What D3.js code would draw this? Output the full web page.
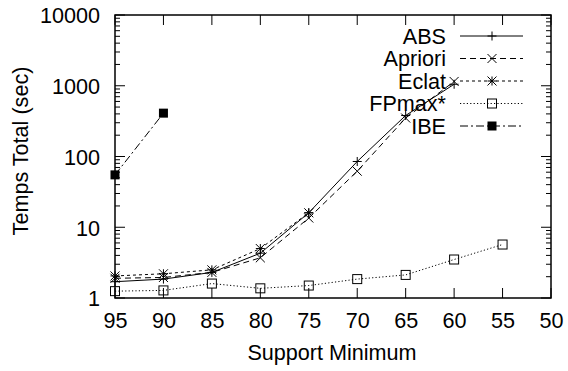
<!DOCTYPE html>
<html><head><meta charset="utf-8">
<script src="https://cdn.jsdelivr.net/npm/d3@7"></script>
<style>body{margin:0;background:#fff}svg{display:block}text{font-family:"Liberation Sans",Arial,sans-serif;fill:#000}</style>
</head><body>
<script>
const supports = [95, 90, 85, 80, 75, 70, 65, 60, 55];
const xTicks = [95, 90, 85, 80, 75, 70, 65, 60, 55, 50];
const yTicks = [1, 10, 100, 1000, 10000];
const absVals     = [1.7, 1.85, 2.3, 4.3, 16, 85, 380, 1050];
const aprioriVals = [1.9, 1.95, 2.3, 3.7, 13.5, 62, 350, 1150];
const eclatVals   = [2.05, 2.2, 2.5, 5.0, 16];
const fpmaxVals   = [1.25, 1.28, 1.6, 1.37, 1.5, 1.85, 2.12, 3.5, 5.7];
const ibeVals     = [55, 410];
const seriesNames = ["ABS", "Apriori", "Eclat", "FPmax*", "IBE"];

const W = 568, H = 371, FS = 21.6;
const m = {left: 115, right: 551, top: 15, bottom: 298};
const svg = d3.select("body").append("svg").attr("width", W).attr("height", H);
const x = d3.scaleLinear().domain([95, 50]).range([m.left, m.right]);
const y = d3.scaleLog().domain([1, 10000]).range([m.bottom, m.top]);

const series = [
  {name: seriesNames[0], vals: absVals, dash: null, marker: "plus"},
  {name: seriesNames[1], vals: aprioriVals, dash: "6,4", marker: "cross"},
  {name: seriesNames[2], vals: eclatVals, dash: "3,3", marker: "star"},
  {name: seriesNames[3], vals: fpmaxVals, dash: "1.2,2.2", marker: "square"},
  {name: seriesNames[4], vals: ibeVals, dash: "8,3,2,3", marker: "fsquare"}
];

function drawMarker(g, type, cx, cy) {
  const s = 4.5;
  if (type === "plus" || type === "star") {
    g.append("path").attr("d", `M${cx-s},${cy}H${cx+s}M${cx},${cy-s}V${cy+s}`).attr("stroke", "#000").attr("stroke-width", 1).attr("fill", "none");
  }
  if (type === "cross" || type === "star") {
    g.append("path").attr("d", `M${cx-s},${cy-s}L${cx+s},${cy+s}M${cx-s},${cy+s}L${cx+s},${cy-s}`).attr("stroke", "#000").attr("stroke-width", 1).attr("fill", "none");
  }
  if (type === "square") {
    g.append("rect").attr("x", cx-s).attr("y", cy-s).attr("width", 2*s).attr("height", 2*s).attr("fill", "none").attr("stroke", "#000").attr("stroke-width", 1);
  }
  if (type === "fsquare") {
    g.append("rect").attr("x", cx-s).attr("y", cy-s).attr("width", 2*s).attr("height", 2*s).attr("fill", "#000");
  }
}

// ticks (gnuplot style, inward, mirrored)
const tg = svg.append("g").attr("stroke", "#000").attr("stroke-width", 1);
xTicks.forEach(t => {
  const px = x(t);
  tg.append("line").attr("x1", px).attr("x2", px).attr("y1", m.bottom).attr("y2", m.bottom - 10);
  tg.append("line").attr("x1", px).attr("x2", px).attr("y1", m.top).attr("y2", m.top + 10);
});
const minor = [];
for (let d = 1; d < 10000; d *= 10) for (let k = 2; k <= 9; k++) minor.push(d * k);
minor.forEach(v => {
  const py = y(v);
  tg.append("line").attr("x1", m.left).attr("x2", m.left + 5).attr("y1", py).attr("y2", py);
  tg.append("line").attr("x1", m.right).attr("x2", m.right - 5).attr("y1", py).attr("y2", py);
});
yTicks.forEach(v => {
  const py = y(v);
  tg.append("line").attr("x1", m.left).attr("x2", m.left + 10).attr("y1", py).attr("y2", py);
  tg.append("line").attr("x1", m.right).attr("x2", m.right - 10).attr("y1", py).attr("y2", py);
});

// tick labels
const xAxis = d3.axisBottom(x).tickValues(xTicks).tickSize(0).tickPadding(0);
const xa = svg.append("g").attr("transform", `translate(0,${m.bottom})`).call(xAxis);
xa.select(".domain").remove();
xa.selectAll("text").attr("font-size", FS).attr("dy", 0).attr("y", 30).attr("font-family", "Liberation Sans, Arial, sans-serif");
const yAxis = d3.axisLeft(y).tickValues(yTicks).tickFormat(d3.format("d")).tickSize(0).tickPadding(0);
const ya = svg.append("g").attr("transform", `translate(${m.left},0)`).call(yAxis);
ya.select(".domain").remove();
ya.selectAll("text").attr("font-size", FS).attr("x", -15).attr("dy", "0.36em").attr("font-family", "Liberation Sans, Arial, sans-serif");

// data
series.forEach(s => {
  const pts = s.vals.map((v, i) => [supports[i], v]);
  const line = d3.line().x(d => x(d[0])).y(d => y(d[1]));
  const p = svg.append("path").datum(pts).attr("d", line).attr("fill", "none").attr("stroke", "#000").attr("stroke-width", 1);
  if (s.dash) p.attr("stroke-dasharray", s.dash);
  const g = svg.append("g");
  pts.forEach(d => drawMarker(g, s.marker, x(d[0]), y(d[1])));
});

// legend
const lg = svg.append("g");
series.forEach((s, i) => {
  const ly = 36 + i * 22.5;
  lg.append("text").attr("x", 446).attr("y", ly).attr("dy", "0.36em").attr("text-anchor", "end").attr("font-size", FS).text(s.name);
  const l = lg.append("line").attr("x1", 460).attr("x2", 523).attr("y1", ly).attr("y2", ly).attr("stroke", "#000").attr("stroke-width", 1);
  if (s.dash) l.attr("stroke-dasharray", s.dash);
  drawMarker(lg, s.marker, 492, ly);
});

// frame
svg.append("rect").attr("x", m.left).attr("y", m.top).attr("width", m.right - m.left).attr("height", m.bottom - m.top).attr("fill", "none").attr("stroke", "#000").attr("stroke-width", 1.5);

// axis titles
svg.append("text").attr("x", 332).attr("y", 360).attr("text-anchor", "middle").attr("font-size", FS).text("Support Minimum");
svg.append("text").attr("transform", "translate(28,151) rotate(-90)").attr("text-anchor", "middle").attr("font-size", FS).text("Temps Total (sec)");
</script>
</body></html>
